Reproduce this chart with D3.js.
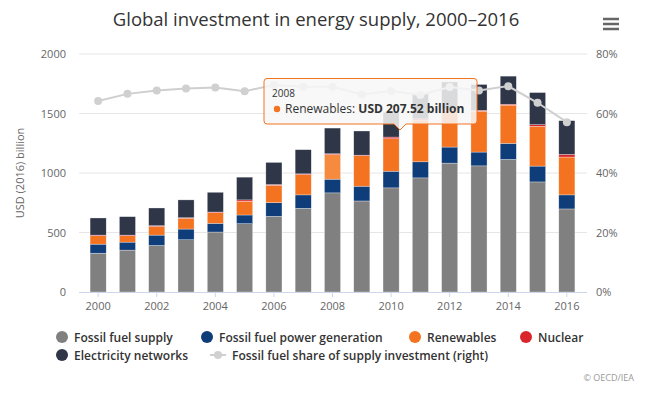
<!DOCTYPE html>
<html>
<head>
<meta charset="utf-8">
<script src="https://cdn.jsdelivr.net/npm/d3@7"></script>
<style>
  body { margin: 0; background: #fff; }
  svg { font-family: "Open Sans", "DejaVu Sans", sans-serif; }
</style>
</head>
<body>
<div id="chart"></div>
<script>
// values (USD 2016 billion)
var years = ["2000","2001","2002","2003","2004","2005","2006","2007","2008",
             "2009","2010","2011","2012","2013","2014","2015","2016"];
var fossilSupply = [326, 352, 391, 439, 504, 574, 636, 703, 833, 765, 875, 959, 1083, 1060, 1114, 925, 698];
var fossilPower  = [76, 67, 87, 90, 73, 73, 115, 113, 115, 124, 140, 135, 135, 116, 135, 133, 118];
var renewables   = [71, 54, 73, 90, 90, 115, 146, 171, 207.52, 256, 273, 351, 310, 343, 321, 334, 318];
var nuclear      = [5, 5, 6, 5, 5, 12, 6, 6, 6, 5, 14, 10, 10, 8, 8, 14, 22];
var networks     = [144, 155, 149, 150, 166, 191, 186, 203, 216, 203, 208, 210, 227, 217, 236, 270, 284];
var fossilShare  = [64.2, 66.6, 67.7, 68.4, 68.7, 67.5, 69.6, 69.0, 69.0, 66.4, 67.6, 66.2, 68.9, 67.7, 69.2, 63.6, 57.1];
var yTicks = [0, 500, 1000, 1500, 2000];
var y2Ticks = [0, 20, 40, 60, 80];
var xTicks = ["2000","2002","2004","2006","2008","2010","2012","2014","2016"];

var seriesNames = ["Fossil fuel supply", "Fossil fuel power generation", "Renewables", "Nuclear", "Electricity networks"];
var seriesColors = ["#808080", "#0f3d79", "#f47321", "#d9262c", "#2f3648"];
var lineName = "Fossil fuel share of supply investment (right)";

function drawChart(){
    var width = 645, height = 400;
    var plot = { left: 79, right: 587, top: 54, bottom: 292 };

    var svg = d3.select("#chart").append("svg")
        .attr("width", width)
        .attr("height", height);

    // build rows for the stack
    var rows = years.map(function(yr, i){
        return { year: yr, s0: fossilSupply[i], s1: fossilPower[i], s2: renewables[i], s3: nuclear[i], s4: networks[i] };
    });
    var stack = d3.stack().keys(["s0","s1","s2","s3","s4"])(rows);

    var x = d3.scaleBand().domain(years).range([83.5, 581.5])
        .paddingInner(0.45).paddingOuter(0.225);
    var y = d3.scaleLinear().domain([0, 2000]).range([plot.bottom, plot.top]);
    var y2 = d3.scaleLinear().domain([0, 80]).range([plot.bottom, plot.top]);

    // title
    svg.append("text")
        .attr("x", 316).attr("y", 26)
        .attr("text-anchor", "middle")
        .attr("font-size", "18.5px")
        .attr("fill", "#333")
        .text("Global investment in energy supply, 2000\u20132016");

    // menu icon
    svg.append("g").selectAll("line").data([19, 24, 29]).enter()
        .append("line")
        .attr("x1", 603).attr("x2", 619)
        .attr("y1", function(d){ return d; }).attr("y2", function(d){ return d; })
        .attr("stroke", "#666").attr("stroke-width", 2.5);

    // grid lines
    svg.append("g").selectAll("line").data(yTicks.slice(1)).enter()
        .append("line")
        .attr("x1", plot.left).attr("x2", plot.right)
        .attr("y1", function(d){ return y(d); }).attr("y2", function(d){ return y(d); })
        .attr("stroke", "#e6e6e6").attr("stroke-width", 1);

    // left axis
    var yAxis = svg.append("g")
        .attr("transform", "translate(" + plot.left + ",0)")
        .call(d3.axisLeft(y).tickValues(yTicks).tickSize(0).tickPadding(13)
            .tickFormat(d3.format("d")));
    yAxis.select(".domain").remove();
    yAxis.selectAll("text").attr("font-size", "11px").attr("fill", "#666")
        .attr("font-family", "Open Sans, DejaVu Sans, sans-serif");

    // right axis
    var y2Axis = svg.append("g")
        .attr("transform", "translate(" + plot.right + ",0)")
        .call(d3.axisRight(y2).tickValues(y2Ticks).tickSize(0).tickPadding(9)
            .tickFormat(function(d){ return d + "%"; }));
    y2Axis.select(".domain").remove();
    y2Axis.selectAll("text").attr("font-size", "11px").attr("fill", "#666")
        .attr("font-family", "Open Sans, DejaVu Sans, sans-serif");

    // left axis title
    svg.append("text")
        .attr("transform", "translate(24," + ((plot.top + plot.bottom) / 2) + ") rotate(-90)")
        .attr("text-anchor", "middle")
        .attr("font-size", "11px")
        .attr("fill", "#666")
        .text("USD (2016) billion");

    // bars
    var layers = svg.append("g").selectAll("g").data(stack).enter()
        .append("g")
        .attr("fill", function(d, i){ return seriesColors[i]; });
    layers.selectAll("rect").data(function(d){ return d; }).enter()
        .append("rect")
        .attr("x", function(d){ return x(d.data.year); })
        .attr("width", x.bandwidth())
        .attr("y", function(d){ return y(d[1]); })
        .attr("height", function(d){ return y(d[0]) - y(d[1]); })
        .attr("stroke", "#fff")
        .attr("stroke-width", 0.5)
        .attr("stroke-opacity", 0.6);

    // hovered point (2008 renewables) is brightened
    layers.filter(function(d, i){ return i === 2; })
        .selectAll("rect")
        .filter(function(d){ return d.data.year === "2008"; })
        .attr("fill", "#f68b3f");

    // x axis
    var xAxis = svg.append("g")
        .attr("transform", "translate(0," + plot.bottom + ")")
        .call(d3.axisBottom(x).tickValues(xTicks).tickSize(5).tickPadding(5));
    xAxis.select(".domain").remove();
    xAxis.selectAll("line").attr("stroke", "#ccd6eb");
    xAxis.selectAll("text").attr("font-size", "11px").attr("fill", "#666")
        .attr("font-family", "Open Sans, DejaVu Sans, sans-serif");
    svg.append("line")
        .attr("x1", plot.left).attr("x2", plot.right)
        .attr("y1", plot.bottom + 0.5).attr("y2", plot.bottom + 0.5)
        .attr("stroke", "#ccd6eb");

    // share line
    var line = d3.line()
        .x(function(d, i){ return x(years[i]) + x.bandwidth() / 2; })
        .y(function(d){ return y2(d); });
    svg.append("path")
        .datum(fossilShare)
        .attr("d", line)
        .attr("fill", "none")
        .attr("stroke", "#cfcfcf")
        .attr("stroke-width", 2);
    svg.append("g").selectAll("circle").data(fossilShare).enter()
        .append("circle")
        .attr("cx", function(d, i){ return x(years[i]) + x.bandwidth() / 2; })
        .attr("cy", function(d){ return y2(d); })
        .attr("r", 4)
        .attr("fill", "#d0d0d0");

    // tooltip
    var tip = svg.append("g");
    tip.append("path")
        .attr("d", "M267,78.5 H474 Q477,78.5 477,81.5 V121 Q477,124 474,124 H406 L400,130 L394,124 H267 Q264,124 264,121 V81.5 Q264,78.5 267,78.5 Z")
        .attr("fill", "rgba(247,247,247,0.85)")
        .attr("stroke", "#f47321")
        .attr("stroke-width", 1);
    tip.append("text")
        .attr("x", 272).attr("y", 97)
        .attr("font-size", "10px").attr("fill", "#333")
        .text(years[8]);
    tip.append("circle")
        .attr("cx", 277).attr("cy", 109).attr("r", 3.2)
        .attr("fill", seriesColors[2]);
    var tipText = tip.append("text")
        .attr("x", 285).attr("y", 113)
        .attr("font-size", "12px").attr("fill", "#333");
    tipText.append("tspan").text(seriesNames[2] + ": ");
    tipText.append("tspan").attr("font-weight", "bold")
        .text("USD " + d3.format(".2f")(renewables[8]) + " billion");

    // legend
    var legendItems = [
        { name: seriesNames[0], color: seriesColors[0], x: 62, y: 337 },
        { name: seriesNames[1], color: seriesColors[1], x: 207, y: 337 },
        { name: seriesNames[2], color: seriesColors[2], x: 415, y: 337 },
        { name: seriesNames[3], color: seriesColors[3], x: 526, y: 337 },
        { name: seriesNames[4], color: seriesColors[4], x: 62, y: 355 }
    ];
    var legend = svg.append("g");
    var li = legend.selectAll("g").data(legendItems).enter().append("g")
        .attr("transform", function(d){ return "translate(" + d.x + "," + d.y + ")"; });
    li.append("circle").attr("r", 6).attr("fill", function(d){ return d.color; });
    li.append("text").attr("x", 12).attr("y", 4.5)
        .attr("font-size", "12px").attr("font-weight", "600").attr("fill", "#333")
        .text(function(d){ return d.name; });

    var ll = legend.append("g").attr("transform", "translate(218,355)");
    ll.append("line").attr("x1", -8).attr("x2", 8).attr("stroke", "#cfcfcf").attr("stroke-width", 2);
    ll.append("circle").attr("r", 4).attr("fill", "#d0d0d0");
    ll.append("text").attr("x", 14).attr("y", 4.5)
        .attr("font-size", "12px").attr("font-weight", "600").attr("fill", "#333")
        .text(lineName);

    // credits
    svg.append("text")
        .attr("x", 634).attr("y", 381)
        .attr("text-anchor", "end")
        .attr("font-size", "9px").attr("fill", "#999")
        .text("\u00a9 OECD/IEA");
}

drawChart();
</script>
</body>
</html>
